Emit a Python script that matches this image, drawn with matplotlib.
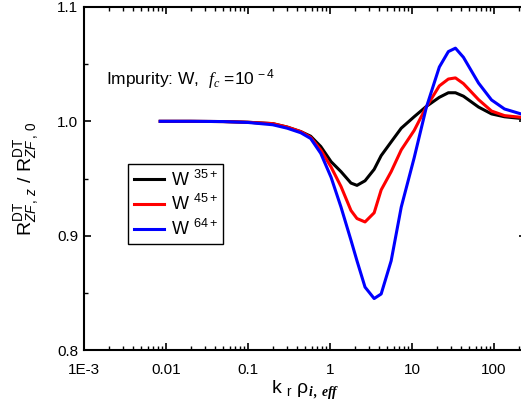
import matplotlib
matplotlib.use("Agg")
import matplotlib.pyplot as plt
from matplotlib.ticker import FixedLocator, FixedFormatter, LogLocator, MultipleLocator, NullFormatter

plt.rcParams["font.family"] = ["Liberation Sans", "DejaVu Sans"]
plt.rcParams["mathtext.fontset"] = "custom"
plt.rcParams["mathtext.rm"] = "Liberation Sans"
plt.rcParams["mathtext.it"] = "Liberation Sans:italic"
plt.rcParams["mathtext.cal"] = "Liberation Serif:italic"
plt.rcParams["mathtext.bf"] = "Liberation Serif:bold:italic"

# k_r * rho_i,eff grid
k = [0.0085, 0.02, 0.05, 0.1, 0.2, 0.3, 0.44, 0.58, 0.77, 1.03, 1.36, 1.8, 2.13,
     2.67, 3.45, 4.2, 5.56, 7.38, 10.6, 14.9, 21.5, 27.7, 33.8, 42.3, 64.6,
     93.1, 134, 215]

w35 = [1.0, 1.0, 0.9998, 0.9992, 0.998, 0.995, 0.991, 0.987, 0.978, 0.9647,
       0.956, 0.946, 0.944, 0.948, 0.958, 0.970, 0.982, 0.994, 1.004, 1.013,
       1.021, 1.025, 1.025, 1.022, 1.0125, 1.0065, 1.004, 1.0025]
w45 = [1.0, 1.0, 0.9998, 0.9992, 0.998, 0.995, 0.991, 0.986, 0.975, 0.960,
       0.943, 0.922, 0.915, 0.912, 0.920, 0.940, 0.956, 0.975, 0.992, 1.0125,
       1.031, 1.037, 1.038, 1.033, 1.019, 1.009, 1.005, 1.0035]
w64 = [1.0, 1.0, 0.9998, 0.999, 0.997, 0.994, 0.990, 0.985, 0.972, 0.951,
       0.925, 0.896, 0.878, 0.855, 0.845, 0.849, 0.878, 0.925, 0.968, 1.012,
       1.0475, 1.061, 1.064, 1.056, 1.0335, 1.0187, 1.0108, 1.0064]

series = [("W $^{35+}$", w35, "black"),
          ("W $^{45+}$", w45, "red"),
          ("W $^{64+}$", w64, "blue")]

xticks = [1e-3, 1e-2, 1e-1, 1, 10, 100]
xtick_labels = ["1E-3", "0.01", "0.1", "1", "10", "100"]

fig = plt.figure(figsize=(5.21, 4.15), dpi=100)
ax = fig.add_axes([84 / 521, 1 - 350 / 415, 442 / 521, 343 / 415])

for label, vals, color in series:
    ax.plot(k, vals, color=color, lw=2.2, label=label)

ax.set_xscale("log")
ax.set_xlim(1e-3, 245)
ax.set_ylim(0.8, 1.1)

ax.xaxis.set_major_locator(FixedLocator(xticks))
ax.xaxis.set_major_formatter(FixedFormatter(xtick_labels))
ax.xaxis.set_minor_locator(LogLocator(base=10, subs=range(2, 10)))
ax.xaxis.set_minor_formatter(NullFormatter())
ax.yaxis.set_major_locator(MultipleLocator(0.1))
ax.yaxis.set_minor_locator(MultipleLocator(0.05))
ax.yaxis.set_major_formatter(plt.FuncFormatter(lambda v, p: f"{v:.1f}"))

ax.tick_params(which="both", direction="in", top=True, right=True, labelsize=11)
ax.tick_params(which="major", length=5, width=1.2)
ax.tick_params(which="minor", length=3, width=1.0)
ax.tick_params(axis="x", pad=9)
ax.tick_params(axis="y", pad=4)
for s in ax.spines.values():
    s.set_linewidth(1.5)

ax.set_xlabel("k $_{\\mathrm{r}}$ ρ$_{\\mathbf{i\\,,\\,eff}}$", fontsize=14, labelpad=2)
ax.set_ylabel("R$^{\\mathrm{DT}}_{ZF\\,,\\,z}$ / R$^{\\mathrm{DT}}_{ZF\\,,\\,0}$", fontsize=14, labelpad=12)

ax.text(0.05, 0.79, "Impurity: W,  $\\mathcal{f}_{\\mathcal{c}}$ =10$^{\\,-4}$", transform=ax.transAxes,
        fontsize=12.5, ha="left", va="center")

leg = ax.legend(loc="upper left", bbox_to_anchor=(0.1, 0.542), fontsize=13,
                frameon=True, fancybox=False, edgecolor="black", framealpha=1,
                handlelength=1.7, borderpad=0.3, labelspacing=0.25, handletextpad=0.35,
                borderaxespad=0)
leg.get_frame().set_linewidth(1.0)

fig.savefig("out.png", dpi=100)
